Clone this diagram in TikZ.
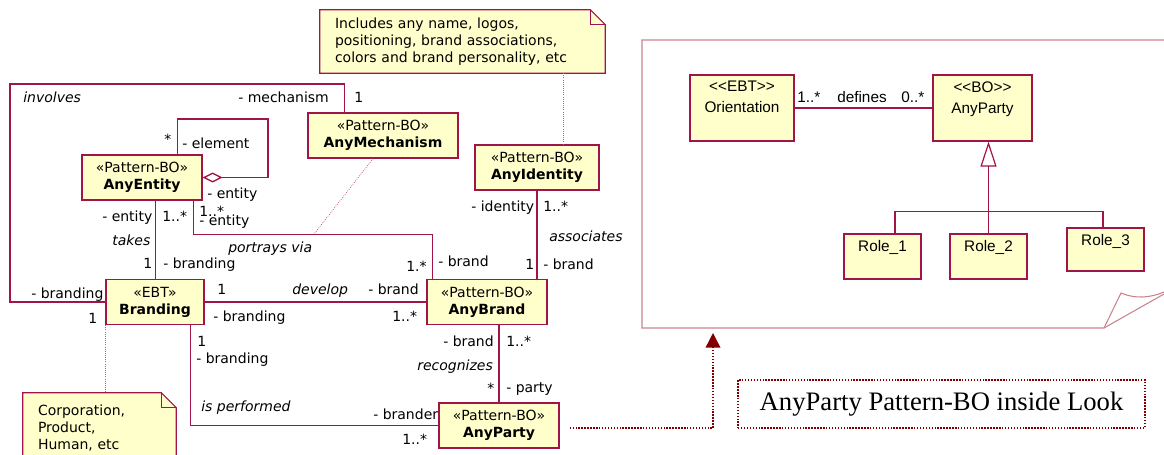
\documentclass[tikz,border=0pt]{standalone}
\usepackage{fontspec}
\setmainfont{DejaVu Sans}
\newfontfamily\arialfont{Liberation Sans}
\newfontfamily\timesfont{Liberation Serif}
\usetikzlibrary{arrows.meta,calc,backgrounds}

\definecolor{umlred}{HTML}{A0144A}
\definecolor{umlfill}{HTML}{FFFFCC}
\definecolor{pagered}{HTML}{C8848E}
\definecolor{tracered}{HTML}{C85A82}
\definecolor{lookred}{HTML}{800000}

% one screen pixel
\newcommand\px{0.75pt}

\tikzset{
  cls/.style={draw=umlred, fill=umlfill, line width=1pt, align=center, inner sep=0pt, minimum height=45*\px},
  assoc/.style={draw=umlred, line width=1pt},
  lbl/.style={anchor=west, inner sep=0pt, text height=6.75pt, text depth=0pt},
  role/.style={lbl, font=\fontsize{10.5}{12.75}\selectfont\itshape},
  notebox/.style={inner xsep=15*\px, inner ysep=0pt, align=left},
  notefill/.style={draw=umlred, fill=umlfill, line width=0.8pt},
  trace/.style={draw=tracered, densely dotted, line width=0.6pt},
  rcls/.style={draw=umlred, fill=umlfill, line width=0.9pt, inner sep=0pt},
  rtext/.style={anchor=north, yshift=-3pt, align=center, inner sep=2pt, font=\arialfont\fontsize{11.5}{15.75}\selectfont},
  rlbl/.style={lbl, font=\arialfont\fontsize{11.5}{12}\selectfont},
  gline/.style={draw=umlred, line width=0.9pt},
  pageline/.style={draw=pagered, line width=0.8pt},
  lookline/.style={draw=lookred, line width=1.1pt, dash pattern=on 1.1pt off 1.1pt}
}

\begin{document}
\begin{tikzpicture}[x=\px, y=-\px, font=\fontsize{10.5}{12.75}\selectfont]
\useasboundingbox (0,0) rectangle (1164,454);

% classes
\node[cls, minimum width=120*\px] (ent) at (142,177.5) {«Pattern-BO»\\\textbf{AnyEntity}};
\node[cls, minimum width=150*\px] (mech) at (383,135.5) {«Pattern-BO»\\\textbf{AnyMechanism}};
\node[cls, minimum width=124*\px] (ident) at (537,167.5) {«Pattern-BO»\\\textbf{AnyIdentity}};
\node[cls, minimum width=98*\px] (brand) at (155,302) {«EBT»\\\textbf{Branding}};
\node[cls, minimum width=120*\px] (abrand) at (487,302) {«Pattern-BO»\\\textbf{AnyBrand}};
\node[cls, minimum width=120*\px] (party) at (499,425.5) {«Pattern-BO»\\\textbf{AnyParty}};

% notes
\node[notebox, text width=255*\px, minimum height=63*\px] (idnote) at (462.5,41.5)
  {Includes any name, logos,\\positioning, brand associations,\\colors and brand personality, etc};
\node[notebox, text width=123*\px, minimum height=69*\px] (cnote) at (99.5,427.5)
  {Corporation,\\Product,\\Human, etc};
\begin{scope}[on background layer]
  \foreach \n in {idnote,cnote} {
    \draw[notefill] (\n.north west) -- ($(\n.north east)+(-15,0)$) -- ($(\n.north east)+(0,15)$)
      -- (\n.south east) -- (\n.south west) -- cycle;
    \draw[notefill, fill=none] ($(\n.north east)+(-15,0)$) |- ($(\n.north east)+(0,15)$);
  }
\end{scope}

% associations
\draw[assoc] ($(mech.north west)+(37,0)$) |- (10,84) |- (brand.west);
\draw[assoc, -{Diamond[open, length=15pt, width=7.5pt]}] ($(ent.north west)+(96,0)$) |- (268,119) |- (ent.east);
\draw[assoc] ($(ent.south west)+(74,0)$) -- ($(brand.north west)+(50,0)$);
\draw[assoc] ($(ent.south east)+(-9,0)$) -- ++(0,34) -| ($(abrand.north west)+(6,0)$);
\draw[assoc] (brand.east) -- (abrand.west);
\draw[assoc] (ident.south) -- (ident.south |- abrand.north);
\draw[assoc] (party.north |- abrand.south) -- (party.north);
\draw[assoc] ($(brand.south east)+(-14,0)$) |- (party.west);

% note anchors
\coordinate (pvia) at (314,234);
\draw[trace] ($(mech.south)+(-10,0)$) -- (pvia);
\draw[trace] ($(ident.north)+(26,0)$) -- ++(0,-72);
\draw[trace] (brand.south west) -- (brand.south west |- cnote.north);

% association ends
\node[role] at (23,98) {involves};
\node[lbl] at (238,98) {- mechanism};
\node[lbl] at (354,98) {1};
\node[lbl] at (31,294) {- branding};
\node[lbl] at (88,319) {1};

\node[lbl] at (164,140) {*};
\node[lbl] at (182,144) {- element};
\node[lbl] at (207,194) {- entity};

\node[lbl] at (102,217) {- entity};
\node[lbl] at (162,217) {1..*};
\node[role] at (112,241) {takes};
\node[lbl] at (143,264) {1};
\node[lbl] at (163,264) {- branding};

\node[lbl] at (199,212) {1..*};
\node[lbl] at (199,221) {- entity};
\node[role] at (228,248) {portrays via};
\node[lbl] at (406,267) {1.*};
\node[lbl] at (438,262) {- brand};

\node[lbl] at (217,290) {1};
\node[role] at (292,290) {develop};
\node[lbl] at (368,290) {- brand};
\node[lbl] at (213,317) {- branding};
\node[lbl] at (392,317) {1..*};

\node[lbl] at (471,207) {- identity};
\node[lbl] at (543,207) {1..*};
\node[role] at (549,237) {associates};
\node[lbl] at (525,265) {1};
\node[lbl] at (543,265) {- brand};

\node[lbl] at (443,342) {- brand};
\node[lbl] at (506,342) {1..*};
\node[role] at (417,366) {recognizes};
\node[lbl] at (487,389) {*};
\node[lbl] at (506,388) {- party};

\node[lbl] at (197,342) {1};
\node[lbl] at (196,359) {- branding};
\node[role] at (201,407) {is performed};
\node[lbl] at (373,415) {- brander};
\node[lbl] at (402,440) {1..*};

% the Look page
\draw[pageline] (1164,40) -| (642,328) -- (1104,328) -- (1121,293) .. controls (1135,299) and (1150,298) .. (1164,292);
\draw[pageline] (1104,328) -- (1164,294);

\node[rcls, minimum width=104*\px, minimum height=66*\px, label={[rtext]north:{<<EBT>>\\Orientation}}] (orient) at (742,108) {};
\node[rcls, minimum width=99*\px, minimum height=66*\px, label={[rtext]north:{<<BO>>\\AnyParty}}] (bo) at (982.5,108) {};
\node[rcls, minimum width=77*\px, minimum height=45*\px, label={[rtext]north:Role\_1}] (role1) at (882.5,256.5) {};
\node[rcls, minimum width=77*\px, minimum height=45*\px, label={[rtext]north:Role\_2}] (role2) at (988.5,256.5) {};
\node[rcls, minimum width=77*\px, minimum height=43*\px, label={[rtext]north:Role\_3}] (role3) at (1105.5,249.5) {};

\draw[gline] (orient) -- (bo);
\node[rlbl] at (797,98) {1..*};
\node[rlbl] at (837,98) {defines};
\node[rlbl] at (901,98) {0..*};

\draw[gline, -{Triangle[open, length=18.75pt, width=12pt]}] (role2.north) -- (role2.north |- bo.south);
\draw[gline] ($(role1.north)+(12.5,0)$) -- ++(0,-22) -| ($(role3.north)+(-2.5,0)$);

% link to the Look page
\coordinate (lookin) at (713,333);
\draw[lookline, -{Triangle[length=11pt, width=11pt]}] ($(party.east)+(10,2.5)$) -| (lookin);
\node[lookline, minimum width=407*\px, minimum height=48*\px, font=\timesfont\fontsize{20}{24}\selectfont] (looklbl) at (941.5,404) {AnyParty Pattern-BO inside Look};

\end{tikzpicture}
\end{document}
